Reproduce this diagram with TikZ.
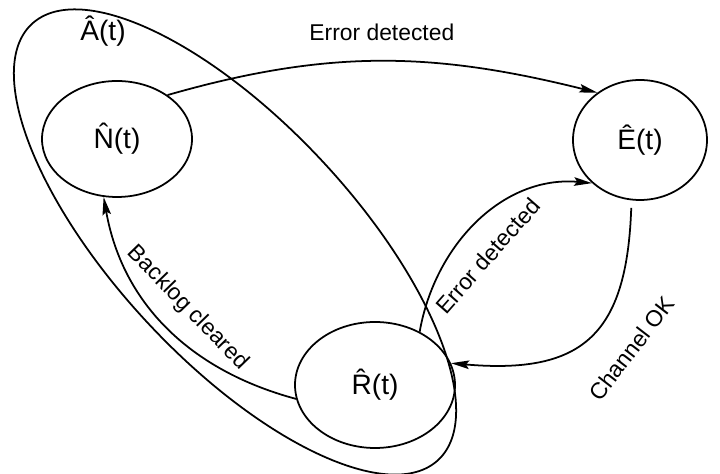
\documentclass[tikz,border=0pt]{standalone}
\usepackage{fontspec}
\setmainfont{Liberation Sans}
\usepackage{tikz}
\usetikzlibrary{
  shapes.geometric,
  arrows.meta,
  positioning
}

\begin{document}
\begin{tikzpicture}[
  state/.style={ellipse, draw, line width=1pt, inner sep=0pt, font=\fontsize{16}{19}\selectfont},
  cond/.style={font=\fontsize{13}{15}\selectfont},
  edge/.style={-{Stealth[length=3.6mm, width=1.7mm, inset=0.6mm]}, line width=1pt}
]
  \useasboundingbox (0,0) rectangle (14.4,9.48);

  % States
  \node[state, minimum width=3cm, minimum height=2.32cm] (norm) at (2.34,6.70) {\^{N}(t)};
  \node[state, minimum width=2.68cm, minimum height=2.4cm] (err) at (12.8,6.68) {\^{E}(t)};
  \node[state, minimum width=3.2cm, minimum height=2.52cm] (rec) at (7.5,1.78) {\^{R}(t)};

  % Available set
  \coordinate (acen) at (4.70,4.64);
  \draw[line width=1pt, rotate around={-47:(acen)}] (acen) ellipse (5.96 and 2.38);
  \node[state, draw=none] (area) at (2.06,8.86) {\^{A}(t)};

  % Edges
  \draw[edge] (norm.41) to[out=16, in=166]
    node[cond, above=8pt] {Error detected} (err.132);
  \draw[edge] (rec.50) to[out=80, in=175]
    node[cond, pos=0.42, sloped, below=9pt] {Error detected} (err.222);
  \draw[edge, shorten <=0.15cm] (err.262) to[out=-92, in=-5, looseness=1.4]
    node[cond, pos=0.43, sloped, below=14pt] {Channel OK} (rec.16);
  \draw[edge] (rec.190) to[out=165, in=-80]
    node[cond, midway, sloped, above=6pt] {Backlog cleared} (norm.257);
\end{tikzpicture}
\end{document}
